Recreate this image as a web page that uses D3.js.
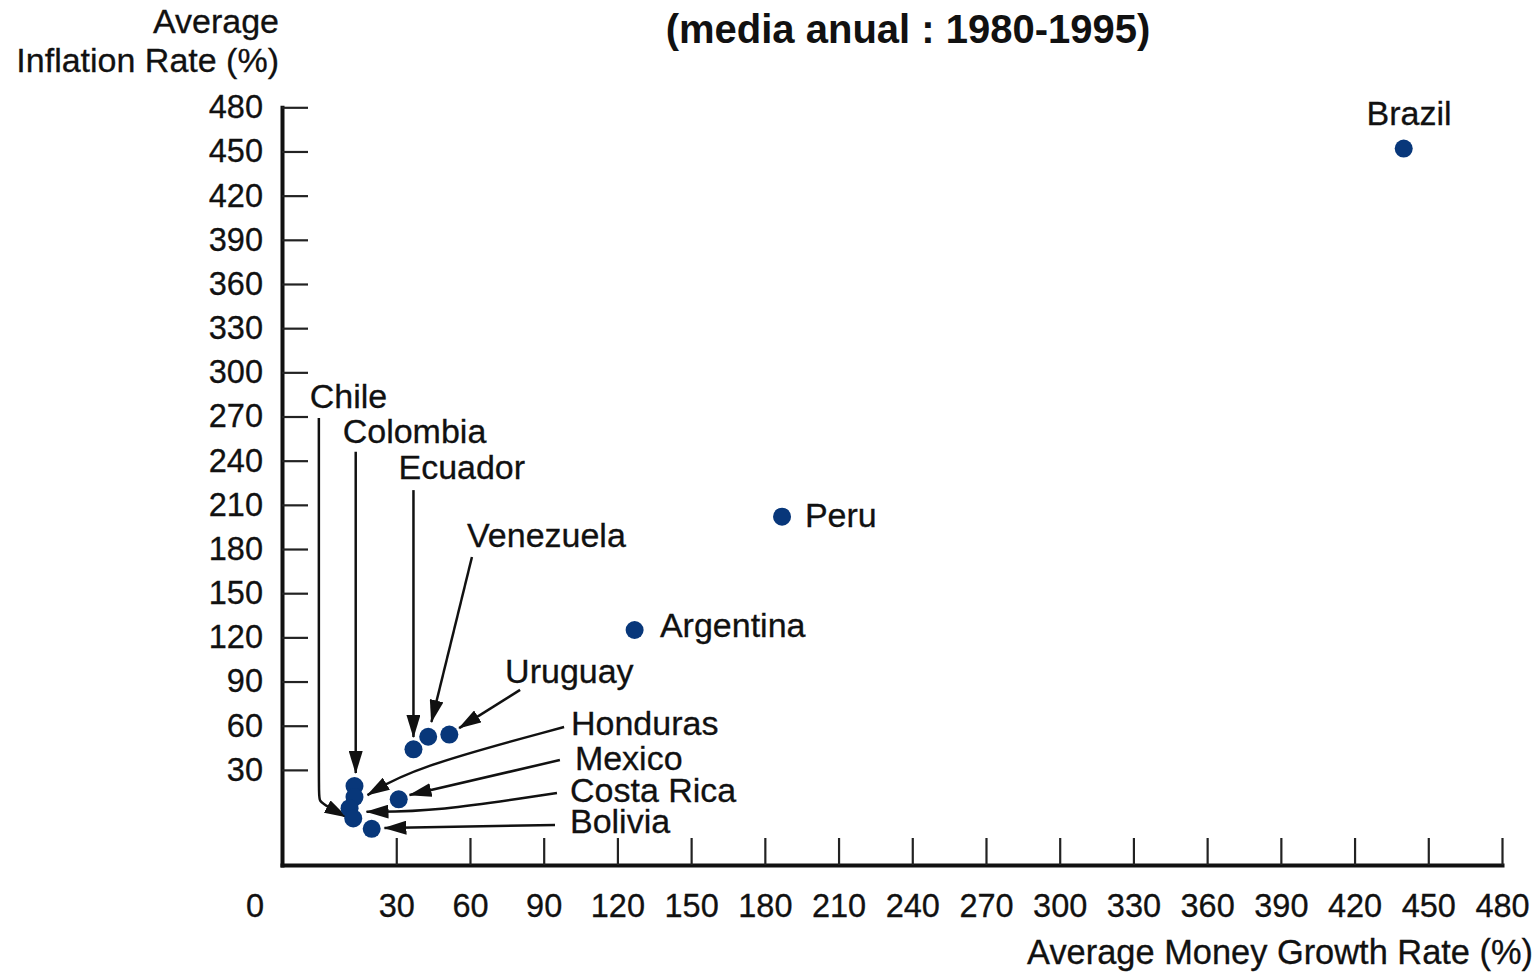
<!DOCTYPE html>
<html>
<head>
<meta charset="utf-8">
<script src="https://cdn.jsdelivr.net/npm/d3@7"></script>
<style>
  body { margin: 0; background: #fff; }
  text { font-family: "Liberation Sans", Arial, Helvetica, sans-serif; fill: #111; stroke: #111; stroke-width: 0.3px; }
</style>
</head>
<body>
<div id="chart"></div>
<script>
// values (the axes do not start at zero, so a few points sit "below" 0)
var countries   = ["Brazil", "Peru", "Argentina", "Uruguay", "Venezuela", "Ecuador", "Colombia", "Honduras", "Mexico", "Costa Rica", "Chile", "Bolivia"];
var moneyGrowth = [440, 187, 127, 51.6, 43, 37, 13, 13, 31, 11, 12.5, 20];
var inflation   = [452, 202, 125, 54, 52.5, 44, 19, 11.5, 10, 4, -3, -10];

var xTicks = [30, 60, 90, 120, 150, 180, 210, 240, 270, 300, 330, 360, 390, 420, 450, 480];
var yTicks = [30, 60, 90, 120, 150, 180, 210, 240, 270, 300, 330, 360, 390, 420, 450, 480];

var title = "(media anual : 1980-1995)";
var xTitle = "Average Money Growth Rate (%)";
var yTitle = ["Average", "Inflation Rate (%)"];

// label placement, in data units: [x, y] of label, then the arrow (start ... tip)
var labelPos = {
  "Brazil":     {at: [442.2, 468], anchor: "middle"},
  "Peru":       {at: [196.3, 195.2]},
  "Argentina":  {at: [137.3, 120.5]},
  "Chile":      {at: [-5.2, 275.8], arrow: [[-1.5, 269], [-1.5, 13], [-1.5, 9], [2, 5], [9.8, -2]]},
  "Colombia":   {at: [8.2, 252],    arrow: [[13.5, 246], [13.5, 27.9]]},
  "Ecuador":    {at: [30.9, 227.6], arrow: [[37, 220], [37, 52.3]]},
  "Venezuela":  {at: [58.8, 181.4], arrow: [[60.8, 174.6], [44.3, 62.5]]},
  "Uruguay":    {at: [74.3, 89],    arrow: [[80.4, 84.3], [55.6, 58.4]]},
  "Honduras":   {at: [101.1, 53.7], arrow: [[98.3, 59.1], [36.6, 31.3], [18.3, 12.9]]},
  "Mexico":     {at: [102.7, 29.9], arrow: [[96.6, 36.7], [35.4, 12.9]]},
  "Costa Rica": {at: [100.7, 8.2],  arrow: [[95.4, 14.3], [46.3, 1.8], [17.9, 1.6]]},
  "Bolivia":    {at: [100.7, -12.9], arrow: [[94.6, -7.4], [25.2, -9.5]]}
};

var width = 1539, height = 974;
var data = countries.map(function(c, i) { return {name: c, x: moneyGrowth[i], y: inflation[i]}; });

var x = d3.scaleLinear().domain([-16.5, 480]).range([282, 1502]);
var y = d3.scaleLinear().domain([-34.6, 480]).range([865, 107.3]);

var svg = d3.select("#chart").append("svg")
  .attr("width", width)
  .attr("height", height);

svg.append("rect").attr("width", width).attr("height", height).attr("fill", "#fff");

// axes
var gx = svg.append("g")
  .attr("transform", "translate(0," + y.range()[0] + ")")
  .call(d3.axisBottom(x).tickValues(xTicks).tickSizeInner(-27).tickSizeOuter(0).tickPadding(29));

var gy = svg.append("g")
  .attr("transform", "translate(" + x.range()[0] + ",0)")
  .call(d3.axisLeft(y).tickValues(yTicks).tickSizeInner(-26).tickSizeOuter(0).tickPadding(19));

[gx, gy].forEach(function(g) {
  g.attr("font-family", null).attr("font-size", null);
  g.select(".domain").attr("stroke", "#111").attr("stroke-width", 4).attr("stroke-linecap", "square");
  g.selectAll(".tick line").attr("stroke", "#222").attr("stroke-width", 2.2);
  g.selectAll(".tick text").attr("font-size", 32.5).attr("fill", "#111");
});

// the lone "0" at the corner
svg.append("text")
  .attr("x", x.range()[0] - 27)
  .attr("y", y.range()[0] + 29)
  .attr("dy", "0.71em")
  .attr("text-anchor", "middle")
  .attr("font-size", 32.5)
  .text("0");

// titles
svg.append("text")
  .attr("x", 908).attr("y", 43)
  .attr("text-anchor", "middle")
  .attr("font-size", 40).attr("font-weight", "bold")
  .style("stroke-width", 0)
  .text(title);

svg.append("text")
  .attr("x", 1533).attr("y", 964)
  .attr("text-anchor", "end")
  .attr("font-size", 34.4)
  .text(xTitle);

svg.selectAll(".ytitle")
  .data(yTitle)
  .enter().append("text")
  .attr("class", "ytitle")
  .attr("x", 279)
  .attr("y", function(d, i) { return 33 + i * 39; })
  .attr("text-anchor", "end")
  .attr("font-size", 34)
  .text(function(d) { return d; });

// arrows
svg.append("defs").append("marker")
  .attr("id", "head")
  .attr("markerUnits", "userSpaceOnUse")
  .attr("viewBox", "0 -7 23 14")
  .attr("refX", 22).attr("refY", 0)
  .attr("markerWidth", 23).attr("markerHeight", 14)
  .attr("orient", "auto")
  .append("path")
  .attr("d", "M0,-7L23,0L0,7Z")
  .attr("fill", "#111");

var line = d3.line()
  .x(function(d) { return x(d[0]); })
  .y(function(d) { return y(d[1]); })
  .curve(d3.curveBasis);

svg.append("g").selectAll("path")
  .data(countries.filter(function(c) { return labelPos[c].arrow; }))
  .enter().append("path")
  .attr("d", function(c) { return line(labelPos[c].arrow); })
  .attr("fill", "none")
  .attr("stroke", "#111")
  .attr("stroke-width", 2.5)
  .attr("marker-end", "url(#head)");

// points
svg.append("g").selectAll("circle")
  .data(data)
  .enter().append("circle")
  .attr("cx", function(d) { return x(d.x); })
  .attr("cy", function(d) { return y(d.y); })
  .attr("r", 9)
  .attr("fill", "#08377a");

// labels
svg.append("g").selectAll("text")
  .data(data)
  .enter().append("text")
  .attr("x", function(d) { return x(labelPos[d.name].at[0]); })
  .attr("y", function(d) { return y(labelPos[d.name].at[1]); })
  .attr("text-anchor", function(d) { return labelPos[d.name].anchor || "start"; })
  .attr("font-size", 34)
  .text(function(d) { return d.name; });
</script>
</body>
</html>
